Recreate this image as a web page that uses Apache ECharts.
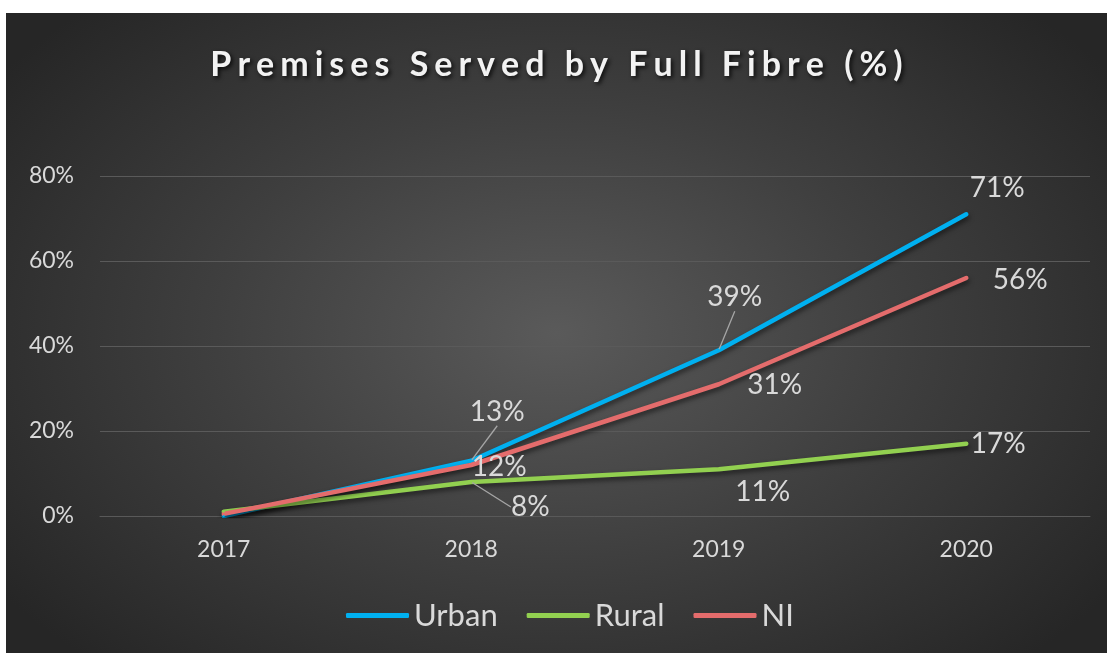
<!DOCTYPE html>
<html>
<head>
<meta charset="utf-8">
<style>
html,body{margin:0;padding:0;background:#fff;width:1107px;height:653px;overflow:hidden;}
#wrap{position:absolute;left:6px;top:13px;width:1101px;height:640px;
background:radial-gradient(ellipse 62% 70% at 50% 50%, #5a5a5a 0%, #3f3f3f 50%, #262626 100%);}
#chart{width:1101px;height:640px;}
</style>
<script src="https://cdn.jsdelivr.net/npm/echarts@6/dist/echarts.min.js"></script>
</head>
<body>
<div id="wrap"><div id="chart"></div></div>
<script>
const years = ['2017', '2018', '2019', '2020'];
const urban = [0, 13, 39, 71];
const rural = [1, 8, 11, 17];
const ni = [0.5, 12, 31, 56];
const yTicks = [0, 20, 40, 60, 80];
const titleText = 'Premises Served by Full Fibre (%)';

// label placement (offset of label centre from point, px) - styling only
const labelOffsets = {
  Urban: [null, [26, -49], [16, -53], [31, -26]],
  Rural: [null, [59, 25], [44, 23], [32, 0]],
  NI:    [null, [28, 2], [56, 1], [54, 2]]
};
const leaders = { Urban: [false, true, true, false], Rural: [false, true, false, false], NI: [false, false, false, false] };
const colors = { Urban: '#00b0f0', Rural: '#92d050', NI: '#e46c6c' };
const font = 'Lato, "Open Sans", sans-serif';

function mkSeries(name, values) {
  return {
    name: name,
    type: 'line',
    data: values.map((v, i) => ({
      value: v,
      label: { show: i > 0 },
      labelLine: { show: leaders[name][i], lineStyle: { color: '#a6a6a6', width: 1.3 } }
    })),
    symbol: 'circle',
    symbolSize: 2,
    showSymbol: true,
    itemStyle: { color: colors[name] },
    lineStyle: { color: colors[name], width: 4.5, cap: 'round', join: 'round',
      shadowColor: 'rgba(0,0,0,0.55)', shadowBlur: 5, shadowOffsetY: 3, shadowOffsetX: 1 },
    label: {
      position: 'inside', align: 'center', verticalAlign: 'middle',
      formatter: p => Math.round(p.value) + '%',
      color: '#d9d9d9', fontSize: 28, fontFamily: font
    },
    labelLine: { show: false, lineStyle: { color: '#a6a6a6', width: 1.3 } },
    labelLayout: function (p) {
      const o = labelOffsets[name][p.dataIndex];
      if (!o) return {};
      return { dx: o[0], dy: o[1] };
    },
    emphasis: { disabled: true },
    animation: false
  };
}

const titleStyle = { color: '#f2f2f2', fontSize: 34, fontWeight: 'bold', fontFamily: font,
  padding: [0, 3, 0, 3],
  textShadowColor: 'rgba(0,0,0,0.8)', textShadowBlur: 4, textShadowOffsetX: 2, textShadowOffsetY: 2 };

const chart = echarts.init(document.getElementById('chart'), null, { renderer: 'canvas' });
chart.setOption({
  animation: false,
  title: {
    text: titleText.split('').map(c => '{s|' + c + '}').join(''),
    left: 'center', top: 30, padding: [5, 0, 5, 10],
    textStyle: { color: '#f2f2f2', fontSize: 34, fontWeight: 'bold', fontFamily: font, rich: { s: titleStyle } }
  },
  legend: {
    data: ['Urban', 'Rural', 'NI'],
    top: 582, left: 335,
    itemWidth: 63, itemHeight: 5, itemGap: 29,
    icon: 'roundRect',
    textStyle: { color: '#d9d9d9', fontSize: 31, fontFamily: font }
  },
  grid: { left: 94, right: 17, top: 163, bottom: 137, containLabel: false },
  xAxis: {
    type: 'category', data: years, boundaryGap: true,
    axisLine: { show: true, lineStyle: { color: '#595959', width: 1 } },
    axisTick: { show: false },
    axisLabel: { color: '#d9d9d9', fontSize: 23, fontFamily: font, margin: 22 }
  },
  yAxis: {
    type: 'value', min: 0, max: 80, interval: 20,
    axisLine: { show: false }, axisTick: { show: false },
    axisLabel: { color: '#d9d9d9', fontSize: 23, fontFamily: font, margin: 26,
      formatter: v => yTicks.includes(v) ? v + '%' : '' },
    splitLine: { lineStyle: { color: '#5a5a5a', width: 1 } }
  },
  series: [mkSeries('Urban', urban), mkSeries('Rural', rural), mkSeries('NI', ni)]
});
</script>
</body>
</html>
